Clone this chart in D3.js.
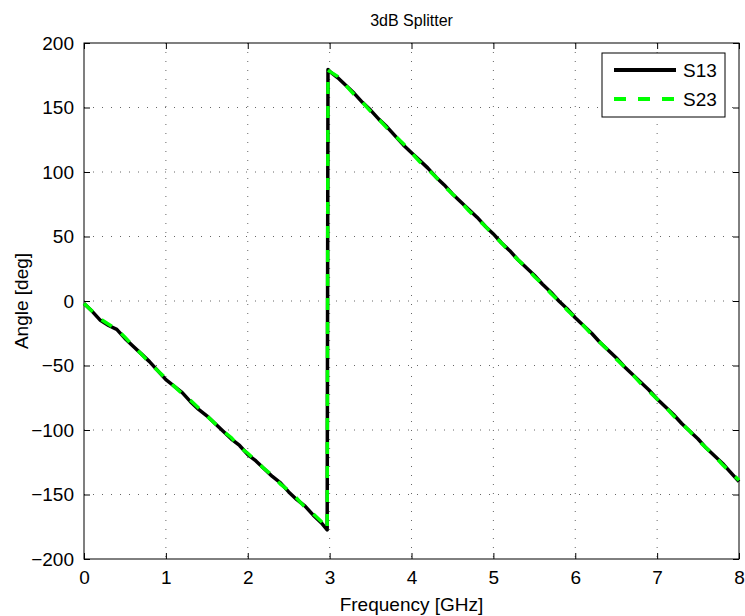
<!DOCTYPE html>
<html>
<head>
<meta charset="utf-8">
<script src="https://cdn.jsdelivr.net/npm/d3@7"></script>
<style>
  body { margin: 0; background: #fff; }
  text { font-family: "Liberation Sans", Arial, sans-serif; fill: #000; }
</style>
</head>
<body>
<div id="chart"></div>
<script>
// data
var freq = [0, 0.1, 0.2, 0.3, 0.4, 0.5, 0.6, 0.7, 0.8, 0.9,
    1.0, 1.1, 1.2, 1.3, 1.4, 1.5, 1.6, 1.7, 1.8, 1.9,
    2.0, 2.1, 2.2, 2.3, 2.4, 2.5, 2.6, 2.7, 2.8, 2.9, 2.97,
    2.98, 3.0, 3.1, 3.2, 3.3, 3.4, 3.5, 3.6, 3.7, 3.8, 3.9,
    4.0, 4.1, 4.2, 4.3, 4.4, 4.5, 4.6, 4.7, 4.8, 4.9,
    5.0, 5.1, 5.2, 5.3, 5.4, 5.5, 5.6, 5.7, 5.8, 5.9,
    6.0, 6.1, 6.2, 6.3, 6.4, 6.5, 6.6, 6.7, 6.8, 6.9,
    7.0, 7.1, 7.2, 7.3, 7.4, 7.5, 7.6, 7.7, 7.8, 7.9, 8.0];
var s13 = [-2, -8, -15, -19, -22, -29, -35, -41, -47, -54,
    -61, -66, -71, -78, -84, -89, -95, -101, -107, -112,
    -119, -124, -130, -136, -141, -148, -154, -159, -166, -172, -177.5,
    179.5, 178, 173, 167, 161, 154, 148, 141, 135, 128, 121,
    115, 109, 103, 96, 90, 83, 77, 71, 65, 58,
    52, 45, 39, 32, 26, 20, 13, 7, 0, -6,
    -13, -19, -25, -32, -38, -44, -51, -57, -63, -69,
    -76, -82, -88, -95, -101, -107, -114, -120, -126, -133, -140];
var s23 = [-2, -8, -14, -18, -22, -28, -35, -41, -48, -54,
    -60, -66, -72, -77, -83, -89, -95, -101, -106, -113,
    -118, -124, -130, -135, -142, -147, -153, -160, -165, -171, -177,
    179, 178, 174, 167, 160, 154, 147, 141, 134, 128, 122,
    115, 108, 102, 96, 89, 83, 77, 70, 64, 58,
    51, 45, 38, 32, 26, 19, 13, 6, 0, -7,
    -13, -19, -26, -32, -38, -45, -51, -57, -64, -70,
    -76, -82, -89, -95, -101, -108, -114, -120, -127, -133, -139];
var xTicks = [0, 1, 2, 3, 4, 5, 6, 7, 8];
var yTicks = [-200, -150, -100, -50, 0, 50, 100, 150, 200];
var seriesNames = ["S13", "S23"];

var W = 745, H = 616;
var margin = {top: 43, right: 6, bottom: 57, left: 84};
var width = W - margin.left - margin.right;
var height = H - margin.top - margin.bottom;

var svg = d3.select("#chart").append("svg")
    .attr("width", W)
    .attr("height", H);

var g = svg.append("g")
    .attr("transform", "translate(" + margin.left + "," + margin.top + ")");

//Scales
var xScale = d3.scaleLinear().domain([0, 8]).range([0, width]);
var yScale = d3.scaleLinear().domain([-200, 200]).range([height, 0]);

// grid (dotted)
g.append("g").selectAll("line").data(xTicks.slice(1, -1)).enter()
    .append("line")
    .attr("x1", function(d) { return xScale(d); })
    .attr("x2", function(d) { return xScale(d); })
    .attr("y1", 0).attr("y2", height)
    .attr("stroke", "#666").attr("stroke-width", 1)
    .attr("stroke-dasharray", "1,8");
g.append("g").selectAll("line").data(yTicks.slice(1, -1)).enter()
    .append("line")
    .attr("y1", function(d) { return yScale(d); })
    .attr("y2", function(d) { return yScale(d); })
    .attr("x1", 0).attr("x2", width)
    .attr("stroke", "#666").attr("stroke-width", 1)
    .attr("stroke-dasharray", "1,8");

//Axes (ticks inward, on all four sides)
var tickLen = 6;
var xAxisB = d3.axisBottom(xScale).tickValues(xTicks).tickSizeInner(-tickLen).tickSizeOuter(0).tickPadding(12);
var xAxisT = d3.axisTop(xScale).tickValues(xTicks).tickSizeInner(-tickLen).tickSizeOuter(0).tickFormat("");
var yAxisL = d3.axisLeft(yScale).tickValues(yTicks).tickSizeInner(-tickLen).tickSizeOuter(0).tickPadding(10)
    .tickFormat(function(d) { return d < 0 ? "\u2212" + Math.abs(d) : d; });
var yAxisR = d3.axisRight(yScale).tickValues(yTicks).tickSizeInner(-tickLen).tickSizeOuter(0).tickFormat("");

g.append("g").attr("transform", "translate(0," + height + ")").call(xAxisB);
g.append("g").call(xAxisT);
g.append("g").call(yAxisL);
g.append("g").attr("transform", "translate(" + width + ",0)").call(yAxisR);

g.selectAll(".domain").remove();
g.selectAll(".tick line").attr("stroke", "#000");
g.selectAll(".tick text")
    .style("font-family", "'Liberation Sans', Arial, sans-serif")
    .style("font-size", "19px")
    .attr("fill", "#000");

// box
g.append("rect")
    .attr("x", 0).attr("y", 0)
    .attr("width", width).attr("height", height)
    .attr("fill", "none").attr("stroke", "#000").attr("stroke-width", 1);

// lines
var line = d3.line()
    .x(function(d) { return xScale(d[0]); })
    .y(function(d) { return yScale(d[1]); });

var data13 = freq.map(function(f, i) { return [f, s13[i]]; });
var data23 = freq.map(function(f, i) { return [f, s23[i]]; });

g.append("path").datum(data13)
    .attr("d", line)
    .attr("fill", "none").attr("stroke", "#000").attr("stroke-width", 3.5)
    .attr("stroke-linejoin", "round");
g.append("path").datum(data23)
    .attr("d", line)
    .attr("fill", "none").attr("stroke", "#00ff00").attr("stroke-width", 3.5)
    .attr("stroke-dasharray", "12,12");

// legend
var legend = g.append("g")
    .attr("transform", "translate(" + (602 - margin.left) + "," + (53 - margin.top) + ")");
legend.append("rect")
    .attr("width", 123).attr("height", 64)
    .attr("fill", "#fff").attr("stroke", "#000").attr("stroke-width", 1);
var styles = [{c: "#000", dash: null}, {c: "#00ff00", dash: "12,12"}];
seriesNames.forEach(function(name, i) {
    var yy = 17 + i * 29;
    legend.append("line")
        .attr("x1", 12).attr("x2", 74)
        .attr("y1", yy).attr("y2", yy)
        .attr("stroke", styles[i].c).attr("stroke-width", 4)
        .attr("stroke-dasharray", styles[i].dash);
    legend.append("text")
        .attr("x", 81).attr("y", yy + 7)
        .style("font-size", "19px")
        .text(name);
});

// title and labels
svg.append("text")
    .attr("x", margin.left + width / 2).attr("y", 26)
    .attr("text-anchor", "middle")
    .style("font-size", "16px")
    .text("3dB Splitter");
svg.append("text")
    .attr("x", margin.left + width / 2).attr("y", 611)
    .attr("text-anchor", "middle")
    .style("font-size", "19px")
    .text("Frequency [GHz]");
svg.append("text")
    .attr("transform", "translate(28," + (margin.top + height / 2) + ")rotate(-90)")
    .attr("text-anchor", "middle")
    .style("font-size", "19px")
    .text("Angle [deg]");
</script>
</body>
</html>
